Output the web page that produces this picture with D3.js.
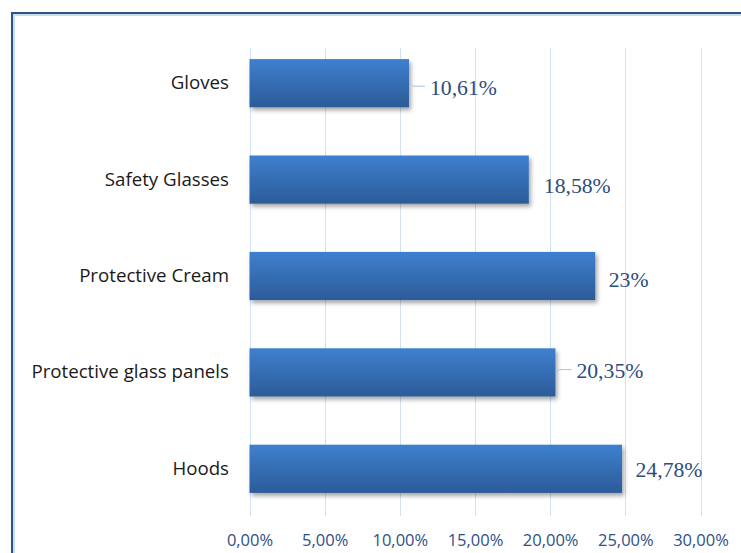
<!DOCTYPE html>
<html>
<head>
<meta charset="utf-8">
<script src="https://cdnjs.cloudflare.com/ajax/libs/d3/7.8.5/d3.min.js"></script>
<style>
  body { margin: 0; background: #fff; }
  svg { display: block; }
</style>
</head>
<body>
<div id="chart"></div>
<script>
// data
var categories = ["Gloves", "Safety Glasses", "Protective Cream", "Protective glass panels", "Hoods"];
var values = [0.1061, 0.1858, 0.23, 0.2035, 0.2478];
var valueLabels = ["10,61%", "18,58%", "23%", "20,35%", "24,78%"];
var ticks = [0, 0.05, 0.10, 0.15, 0.20, 0.25, 0.30];
var tickLabels = ["0,00%", "5,00%", "10,00%", "15,00%", "20,00%", "25,00%", "30,00%"];

// labels were nudged by hand in the original, so keep the nudges apart
var labelNudge = [[21, 4], [15, 5.5], [13.5, 3.3], [21, -1.8], [13.5, 1]];
var hasLeader = [true, false, false, true, false];

var width = 741, height = 553;

var svg = d3.select("#chart").append("svg")
    .attr("width", width)
    .attr("height", height);

var defs = svg.append("defs");

var grad = defs.append("linearGradient")
    .attr("id", "barGrad")
    .attr("x1", 0).attr("y1", 0)
    .attr("x2", 0).attr("y2", 1);
grad.append("stop").attr("offset", "0%").attr("stop-color", "#3e80cf");
grad.append("stop").attr("offset", "100%").attr("stop-color", "#2c5b98");

var shadow = defs.append("filter")
    .attr("id", "shadow")
    .attr("x", "-10%").attr("y", "-20%")
    .attr("width", "130%").attr("height", "160%");
shadow.append("feDropShadow")
    .attr("dx", 2).attr("dy", 3)
    .attr("stdDeviation", 2)
    .attr("flood-color", "#000")
    .attr("flood-opacity", 0.35);

// frame round the chart (goes off the right and bottom edges)
svg.append("path")
    .attr("d", "M12,560 V13 H760")
    .attr("fill", "none")
    .attr("stroke", "#2b5581")
    .attr("stroke-width", 2);
svg.append("path")
    .attr("d", "M14,560 V15 H760")
    .attr("fill", "none")
    .attr("stroke", "#c9dcf2")
    .attr("stroke-width", 2);

var x = d3.scaleLinear()
    .domain([0, 0.30])
    .range([249.5, 700.5]);

var y = d3.scaleBand()
    .domain(categories)
    .range([35, 517])
    .paddingInner(0.5)
    .paddingOuter(0.25);

// vertical grid lines
svg.append("g")
    .selectAll("line")
    .data(ticks)
  .enter().append("line")
    .attr("x1", function(d) { return Math.round(x(d)) + 0.5; })
    .attr("x2", function(d) { return Math.round(x(d)) + 0.5; })
    .attr("y1", 48)
    .attr("y2", 516)
    .attr("stroke", "#d3e2f3")
    .attr("stroke-width", 1);

// x tick labels
var xAxis = d3.axisBottom(x)
    .tickValues(ticks)
    .tickSize(0)
    .tickPadding(0)
    .tickFormat(function(d, i) { return tickLabels[i]; });

var gx = svg.append("g")
    .attr("transform", "translate(0,534)")
    .call(xAxis);
gx.select(".domain").remove();
gx.selectAll("text")
    .attr("dy", "0.71em")
    .attr("font-family", "'Open Sans', sans-serif")
    .attr("font-size", "16.5px")
    .attr("fill", "#2f5086");

// category labels
var yAxis = d3.axisLeft(y).tickSize(0).tickPadding(0);
var gy = svg.append("g")
    .attr("transform", "translate(229,0)")
    .call(yAxis);
gy.select(".domain").remove();
gy.selectAll("text")
    .attr("font-family", "'Open Sans', sans-serif")
    .attr("font-size", "18.7px")
    .attr("fill", "#1a1a1a");

// bars
svg.append("g")
    .selectAll("rect")
    .data(values)
  .enter().append("rect")
    .attr("x", x(0))
    .attr("y", function(d, i) { return y(categories[i]); })
    .attr("width", function(d) { return x(d) - x(0); })
    .attr("height", y.bandwidth())
    .attr("fill", "url(#barGrad)")
    .attr("filter", "url(#shadow)");

// leader lines
svg.append("g")
    .selectAll("path")
    .data(values.filter(function(d, i) { return hasLeader[i]; }).map(function(d) { return values.indexOf(d); }))
  .enter().append("path")
    .attr("d", function(i) {
      var x0 = x(values[i]) + 1;
      var y0 = y(categories[i]) + y.bandwidth() / 2;
      var x1 = x(values[i]) + labelNudge[i][0] - 5;
      var y1 = y0 + labelNudge[i][1] - 1;
      return "M" + x0 + "," + y0 + " L" + (x0 + 3) + "," + y1 + " L" + x1 + "," + y1;
    })
    .attr("fill", "none")
    .attr("stroke", "#a8c3e3")
    .attr("stroke-width", 1);

// value labels
svg.append("g")
    .selectAll("text")
    .data(values)
  .enter().append("text")
    .attr("x", function(d, i) { return x(d) + labelNudge[i][0]; })
    .attr("y", function(d, i) { return y(categories[i]) + y.bandwidth() / 2 + labelNudge[i][1]; })
    .attr("dy", "0.35em")
    .attr("font-family", "'Liberation Serif', 'Times New Roman', serif")
    .attr("font-size", "21.7px")
    .attr("fill", "#2c4c7e")
    .text(function(d, i) { return valueLabels[i]; });
</script>
</body>
</html>
